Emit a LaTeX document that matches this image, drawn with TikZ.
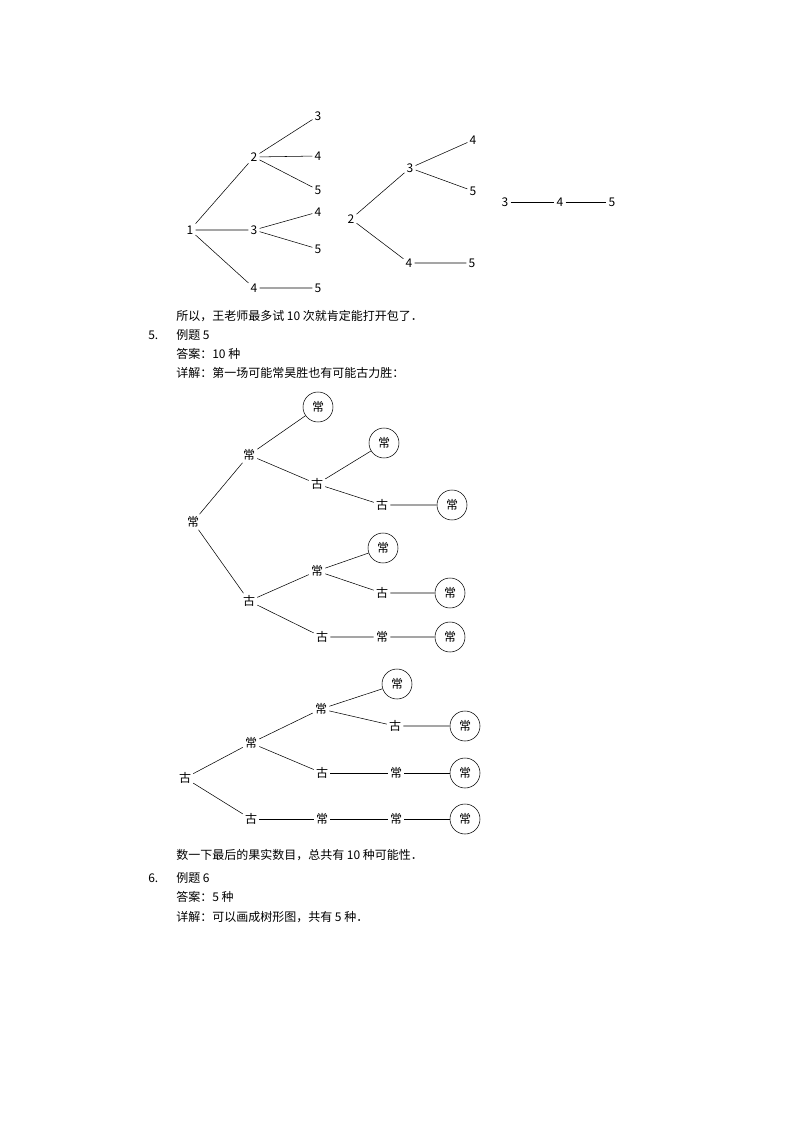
\documentclass[tikz,border=0pt]{standalone}
\usepackage{fontspec}
\setmainfont{Noto Sans CJK SC}
\tikzset{
  num/.style={inner sep=1.5pt, font=\fontsize{9}{11}\selectfont},
  leaf/.style={draw, circle, minimum size=22.5pt, inner sep=0pt, font=\fontsize{9}{11}\selectfont},
  txt/.style={anchor=west, inner sep=0pt, font=\fontsize{9}{11}\selectfont}
}
\begin{document}
\begin{tikzpicture}[x=0.75pt,y=-0.75pt]
  \useasboundingbox (0,0) rectangle (794,1123);
  % first tree
  \node[num] (a1) at (190,230) {1};
  \node[num] (a2) at (254,157) {2};
  \node[num] (a3) at (254,230) {3};
  \node[num] (a4) at (254,288) {4};
  \node[num] (a23) at (318,116) {3};
  \node[num] (a24) at (318,156) {4};
  \node[num] (a25) at (318,190) {5};
  \node[num] (a34) at (318,212) {4};
  \node[num] (a35) at (318,249) {5};
  \node[num] (a45) at (318,288) {5};
  \draw (a1)--(a2) (a1)--(a3) (a1)--(a4);
  \draw (a2)--(a23) (a2)--(a24) (a2)--(a25) (a3)--(a34) (a3)--(a35) (a4)--(a45);
  % second tree
  \node[num] (b2) at (351,219) {2};
  \node[num] (b3) at (410,168) {3};
  \node[num] (b4) at (409,263) {4};
  \node[num] (b34) at (473,140) {4};
  \node[num] (b35) at (473,191) {5};
  \node[num] (b45) at (472,263) {5};
  \draw (b2)--(b3) (b2)--(b4) (b3)--(b34) (b3)--(b35) (b4)--(b45);
  % third tree
  \node[num] (c3) at (505,202) {3};
  \node[num] (c4) at (560,202) {4};
  \node[num] (c5) at (612,202) {5};
  \draw (c3)--(c4)--(c5);
  % text
  \node[txt] at (176,316) {所以，王老师最多试 10 次就肯定能打开包了．};
  \node[txt] at (148,335) {5.};
  \node[txt] at (176,335) {例题 5};
  \node[txt] at (176,354) {答案：10 种};
  \node[txt] at (176,373) {详解：第一场可能常昊胜也有可能古力胜：};
  % tree A
  \node[num] (p0) at (193,522) {常};
  \node[num] (p1) at (249,455) {常};
  \node[num] (p2) at (249,601) {古};
  \node[leaf] (p11) at (318,407) {常};
  \node[num] (p12) at (317,484) {古};
  \node[leaf] (p121) at (384,443) {常};
  \node[num] (p122) at (382,505) {古};
  \node[leaf] (p1222) at (452,505) {常};
  \node[num] (p21) at (317,571) {常};
  \node[leaf] (p211) at (383,548) {常};
  \node[num] (p212) at (382,593) {古};
  \node[leaf] (p2122) at (450,593) {常};
  \node[num] (p22) at (322,637) {古};
  \node[num] (p221) at (382,637) {常};
  \node[leaf] (p2211) at (450,637) {常};
  \draw (p0)--(p1) (p0)--(p2) (p1)--(p11) (p1)--(p12) (p12)--(p121) (p12)--(p122) (p122)--(p1222);
  \draw (p2)--(p21) (p2)--(p22) (p21)--(p211) (p21)--(p212) (p212)--(p2122) (p22)--(p221)--(p2211);
  % tree B
  \node[num] (q0) at (185,778) {古};
  \node[num] (q1) at (251,743) {常};
  \node[num] (q2) at (251,819) {古};
  \node[num] (q11) at (321,709) {常};
  \node[leaf] (q111) at (397,684) {常};
  \node[num] (q112) at (395,726) {古};
  \node[leaf] (q1122) at (465,726) {常};
  \node[num] (q12) at (322,773) {古};
  \node[num] (q121) at (396,773) {常};
  \node[leaf] (q1211) at (465,773) {常};
  \node[num] (q21) at (322,819) {常};
  \node[num] (q211) at (396,819) {常};
  \node[leaf] (q2111) at (465,819) {常};
  \draw (q0)--(q1) (q0)--(q2) (q1)--(q11) (q1)--(q12) (q11)--(q111) (q11)--(q112) (q112)--(q1122);
  \draw (q12)--(q121)--(q1211) (q2)--(q21)--(q211)--(q2111);
  % text
  \node[txt] at (176,855) {数一下最后的果实数目，总共有 10 种可能性．};
  \node[txt] at (148,878) {6.};
  \node[txt] at (176,878) {例题 6};
  \node[txt] at (176,897) {答案：5 种};
  \node[txt] at (176,917) {详解：可以画成树形图，共有 5 种．};
\end{tikzpicture}
\end{document}
